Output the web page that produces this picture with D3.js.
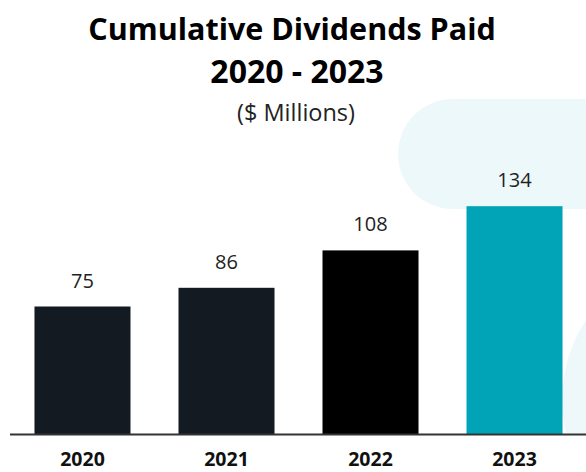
<!DOCTYPE html>
<html>
<head>
<meta charset="utf-8">
<script src="https://cdn.jsdelivr.net/npm/d3@7"></script>
<style>
  html, body { margin: 0; padding: 0; background: #ffffff; }
  svg { display: block; }
  text { font-family: "Open Sans", "DejaVu Sans", sans-serif; }
</style>
</head>
<body>
<script>
// Cumulative dividends paid per year, $ millions
const years = ["2020", "2021", "2022", "2023"];
const dividends = [75, 86, 108, 134];
const barColors = ["#131a22", "#131a22", "#000000", "#00a4b6"];
const titleLines = ["Cumulative Dividends Paid", "2020 - 2023"];
const subtitle = "($ Millions)";

const W = 586, H = 472;
const baseY = 434;

const svg = d3.select("body").append("svg")
  .attr("width", W).attr("height", H);

// soft background shapes
const deco = svg.append("g");
deco.append("rect")
  .attr("x", 398).attr("y", 99)
  .attr("width", 260).attr("height", 110)
  .attr("rx", 55).attr("ry", 55)
  .attr("fill", "#edf8fa");
svg.append("clipPath").attr("id", "aboveAxis")
  .append("rect").attr("x", 0).attr("y", 0).attr("width", W).attr("height", baseY);
deco.append("circle")
  .attr("cx", 707).attr("cy", 400).attr("r", 145)
  .attr("fill", "#eef8fa")
  .attr("clip-path", "url(#aboveAxis)");

const x = d3.scaleBand()
  .domain(years)
  .range([10, 587])
  .paddingInner(1 / 3)
  .paddingOuter(0.17);

const y = d3.scaleLinear()
  .domain([0, 150])
  .range([baseY, baseY - 255]);

// bars
svg.append("g").selectAll("rect")
  .data(years)
  .join("rect")
  .attr("x", d => x(d))
  .attr("y", (d, i) => y(dividends[i]))
  .attr("width", x.bandwidth())
  .attr("height", (d, i) => baseY - y(dividends[i]))
  .attr("fill", (d, i) => barColors[i]);

// value labels
svg.append("g").selectAll("text")
  .data(years)
  .join("text")
  .attr("x", d => x(d) + x.bandwidth() / 2)
  .attr("y", (d, i) => y(dividends[i]) - 19)
  .attr("text-anchor", "middle")
  .attr("font-size", 20)
  .attr("fill", "#222")
  .text((d, i) => dividends[i]);

// category axis
const axis = svg.append("g")
  .attr("transform", `translate(0,${baseY})`)
  .call(d3.axisBottom(x).tickSize(0).tickPadding(0));
axis.select(".domain")
  .attr("d", "M10,0.5H586")
  .attr("stroke", "#333")
  .attr("stroke-width", 2);
axis.selectAll(".tick text")
  .attr("dy", null)
  .attr("y", 32)
  .attr("font-size", 19.5)
  .attr("font-weight", "bold")
  .attr("fill", "#111")
  .attr("font-family", "'Open Sans', sans-serif");

// titles
svg.append("text")
  .attr("x", 292).attr("y", 40)
  .attr("text-anchor", "middle")
  .attr("font-size", 30.5).attr("font-weight", "bold").attr("fill", "#000")
  .text(titleLines[0]);
svg.append("text")
  .attr("x", 297).attr("y", 83)
  .attr("text-anchor", "middle")
  .attr("font-size", 32).attr("font-weight", "bold").attr("fill", "#000")
  .text(titleLines[1]);
svg.append("text")
  .attr("x", 296).attr("y", 121)
  .attr("text-anchor", "middle")
  .attr("font-size", 23.5).attr("fill", "#222")
  .text(subtitle);
</script>
</body>
</html>
